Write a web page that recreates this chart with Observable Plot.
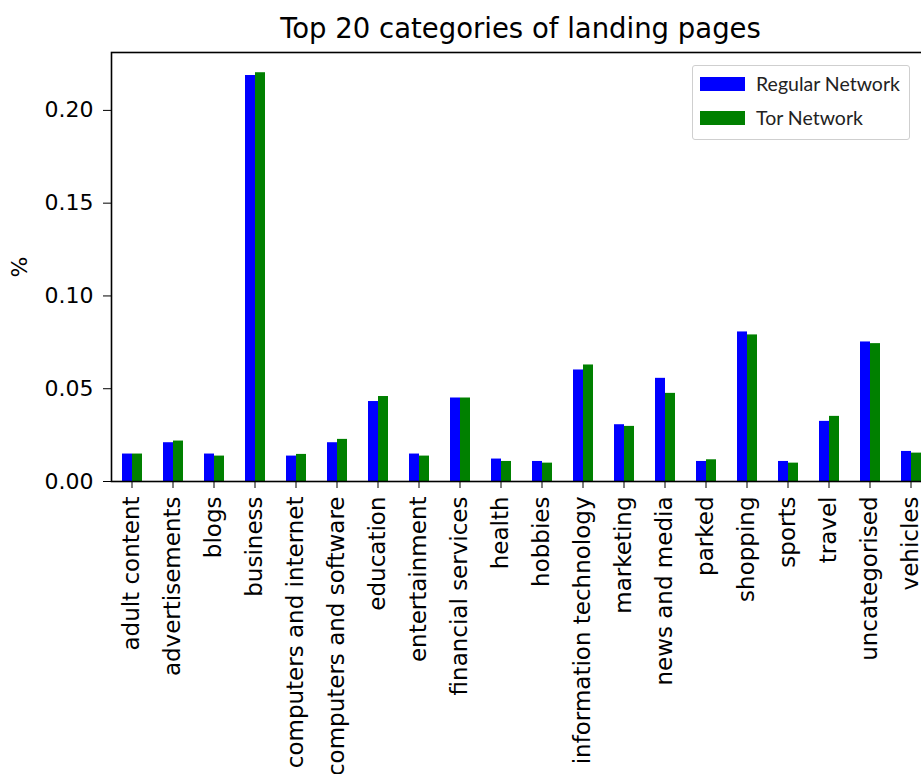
<!DOCTYPE html>
<html><head><meta charset="utf-8">
<script src="https://cdn.jsdelivr.net/npm/d3@7"></script>
<script src="https://cdn.jsdelivr.net/npm/@observablehq/plot@0.6"></script>
<style>
html,body{margin:0;padding:0;background:#fff;overflow:hidden;}
#wrap{position:relative;width:950px;height:774px;}
#title{position:absolute;left:0;width:1041px;top:15px;text-align:center;font-family:"DejaVu Sans";font-size:27.5px;line-height:27.5px;color:#000;white-space:nowrap;}
#legend{position:absolute;left:692px;top:65px;width:218px;height:75px;border:1px solid #cfcfcf;border-radius:3px;box-sizing:border-box;background:#fff;}
.item{position:absolute;left:7px;height:15px;width:220px;}
.sw{position:absolute;left:0;top:0;width:45px;height:14px;}
.lab{position:absolute;left:56px;top:-6px;font-family:Lato,"Open Sans",sans-serif;font-size:19.5px;line-height:25px;color:#222;white-space:nowrap;}
</style></head><body>
<div id="wrap"><div id="chart"></div><div id="title">Top 20 categories of landing pages</div><div id="legend"></div></div>
<script>
const categories = ["adult content","advertisements","blogs","business","computers and internet","computers and software","education","entertainment","financial services","health","hobbies","information technology","marketing","news and media","parked","shopping","sports","travel","uncategorised","vehicles"];
const regular = [0.0148,0.0209,0.0148,0.2188,0.0137,0.0209,0.0431,0.0148,0.0450,0.0121,0.0108,0.0601,0.0306,0.0556,0.0108,0.0806,0.0108,0.0324,0.0752,0.0162];
const tor = [0.0148,0.0218,0.0137,0.2203,0.0146,0.0227,0.0458,0.0137,0.0450,0.0108,0.0099,0.0628,0.0297,0.0475,0.0117,0.0790,0.0099,0.0351,0.0743,0.0153];
const seriesNames = ["Regular Network","Tor Network"];
const seriesColors = ["#0000ff","#008000"];
const yTicks = [0,0.05,0.10,0.15,0.20];
const yMax = 0.2312;

const data = categories.flatMap((c,i)=>[
  {category:c, series:seriesNames[0], value:regular[i]},
  {category:c, series:seriesNames[1], value:tor[i]}
]);

const plot = Plot.plot({
  width:950, height:774,
  marginLeft:110, marginRight:19, marginTop:52, marginBottom:293,
  style:{fontFamily:"DejaVu Sans", fontSize:"22px", color:"#000", background:"#fff", overflow:"visible"},
  fx:{domain:categories, paddingInner:0, paddingOuter:0, label:null, axis:null},
  x:{domain:seriesNames, paddingInner:0, paddingOuter:1, axis:null},
  y:{domain:[0,yMax], ticks:yTicks, tickFormat:".2f", tickSize:8, tickPadding:10, label:"%", labelAnchor:"center", labelOffset:100, labelArrow:"none"},
  color:{domain:seriesNames, range:seriesColors},
  marks:[
    Plot.barY(data,{fx:"category", x:"series", y:"value", fill:"series"}),
    Plot.axisFx({anchor:"bottom", tickRotate:-90, tickSize:7, tickPadding:8, label:null, fontSize:23}),
    Plot.frame({facet:"super", stroke:"#000", strokeWidth:1.6})
  ]
});
document.getElementById("chart").appendChild(plot);

const legend = document.getElementById("legend");
seriesNames.forEach((n,i)=>{
  const it = document.createElement("div");
  it.className = "item";
  it.style.top = (11 + i*34) + "px";
  const sw = document.createElement("div");
  sw.className = "sw"; sw.style.background = seriesColors[i];
  const lb = document.createElement("div");
  lb.className = "lab"; lb.textContent = n;
  it.appendChild(sw); it.appendChild(lb);
  legend.appendChild(it);
});
</script>
</body></html>
